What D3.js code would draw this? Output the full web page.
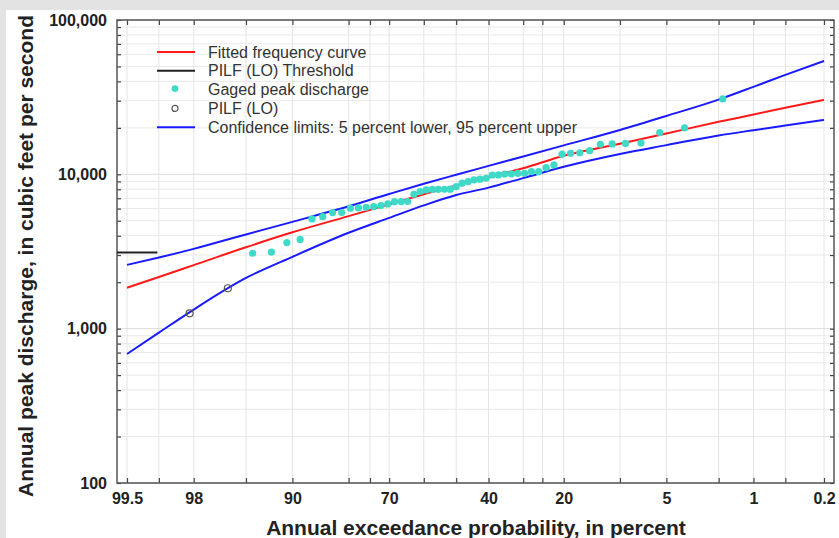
<!DOCTYPE html>
<html>
<head>
<meta charset="utf-8">
<script src="https://cdn.jsdelivr.net/npm/d3@7"></script>
<style>
  body { margin: 0; background: #fff; }
  svg { display: block; font-family: "Liberation Sans", Arial, sans-serif; }
  .axis path { display: none; }
  .axis line { stroke: #444; stroke-width: 1.2px; }
  .axis text { font-size: 16px; font-weight: bold; fill: #222; }
  .grid line { stroke: #e4e4e4; stroke-width: 1px; }
</style>
</head>
<body>
<svg width="839" height="538"></svg>
<script>
// exceedance probabilities (percent) where the curves were read
var curveProbs = [99.5, 99, 98, 95, 90, 80, 70, 60, 50, 40, 30, 20, 10, 5, 2, 1, 0.5, 0.2];
var fitted = [1840, 2160, 2580, 3370, 4210, 5360, 6390, 7430, 8460, 9600, 10950, 13200, 15800, 18400, 21900, 24400, 27000, 30400];
var upper95 = [2590, 2890, 3290, 4080, 4920, 6210, 7460, 8690, 9940, 11340, 13050, 15400, 19400, 23900, 30500, 36900, 44100, 54300];
var lower5 = [685, 943, 1330, 2130, 2920, 4180, 5220, 6290, 7340, 8200, 9450, 11200, 13560, 15460, 17870, 19310, 20690, 22530];

// gaged peaks (cfs) and their plotting positions (percent)
var gagedProb = [1.85, 3.70, 5.56, 7.41, 9.26, 11.11, 12.96, 14.81, 16.67, 18.52, 20.37, 22.22, 24.07, 25.93,
  27.78, 29.63, 31.48, 33.33, 35.19, 37.04, 38.89, 40.74, 42.59, 44.44, 46.30, 48.15, 50.00, 51.85, 53.70,
  55.56, 57.41, 59.26, 61.11, 62.96, 64.81, 66.67, 68.52, 70.37, 72.22, 74.07, 75.93, 77.78, 79.63, 81.48,
  83.33, 85.19, 87.04, 88.89, 90.74, 92.59, 94.44];
var gagedPeak = [30800, 19980, 18640, 15950, 15850, 15740, 15670, 14240, 13800, 13700, 13500, 11510, 11050, 10410,
  10400, 10160, 10150, 10060, 10050, 9910, 9900, 9430, 9300, 9200, 8970, 8760, 8320, 8010, 8000,
  7990, 7980, 7925, 7730, 7430, 6670, 6660, 6650, 6430, 6270, 6175, 6120, 6056, 6040, 5660,
  5650, 5320, 5140, 3785, 3610, 3130, 3080];

var pilfProb = [96.30, 98.15];
var pilfPeak = [1827, 1258];
var pilfThreshold = 3110;
var thresholdProbs = [99.72, 99.03];

var xTicks = [99.5, 99, 98, 95, 90, 80, 75, 70, 60, 50, 40, 30, 25, 20, 10, 5, 2, 1, 0.5, 0.2];
var xLabels = [99.5, 98, 90, 70, 40, 20, 5, 1, 0.2];
var yLabels = [100, 1000, 10000, 100000];

var legendItems = [
  {name: "Fitted frequency curve", type: "line", color: "#ff1a1a"},
  {name: "PILF (LO) Threshold", type: "line", color: "#222"},
  {name: "Gaged peak discharge", type: "dot", color: "#3fd9c8"},
  {name: "PILF (LO)", type: "circle", color: "#555"},
  {name: "Confidence limits: 5 percent lower, 95 percent upper", type: "line", color: "#1a1aff"}
];

// inverse standard normal (Acklam)
function qnorm(p) {
  var a = [-3.969683028665376e+01, 2.209460984245205e+02, -2.759285104469687e+02, 1.383577518672690e+02, -3.066479806614716e+01, 2.506628277459239e+00],
      b = [-5.447609879822406e+01, 1.615858368580409e+02, -1.556989798598866e+02, 6.680131188771972e+01, -1.328068155288572e+01],
      c = [-7.784894002430293e-03, -3.223964580411365e-01, -2.400758277161838e+00, -2.549732539343734e+00, 4.374664141464968e+00, 2.938163982698783e+00],
      d = [7.784695709041462e-03, 3.224671290700398e-01, 2.445134137142996e+00, 3.754408661907416e+00];
  var q, r;
  if (p < 0.02425) {
    q = Math.sqrt(-2 * Math.log(p));
    return (((((c[0]*q+c[1])*q+c[2])*q+c[3])*q+c[4])*q+c[5]) / ((((d[0]*q+d[1])*q+d[2])*q+d[3])*q+1);
  } else if (p <= 1 - 0.02425) {
    q = p - 0.5; r = q * q;
    return (((((a[0]*r+a[1])*r+a[2])*r+a[3])*r+a[4])*r+a[5])*q / (((((b[0]*r+b[1])*r+b[2])*r+b[3])*r+b[4])*r+1);
  }
  q = Math.sqrt(-2 * Math.log(1 - p));
  return -(((((c[0]*q+c[1])*q+c[2])*q+c[3])*q+c[4])*q+c[5]) / ((((d[0]*q+d[1])*q+d[2])*q+d[3])*q+1);
}
function zOf(pct) { return qnorm(1 - pct / 100); }

var svg = d3.select("svg"),
    margin = {top: 20, right: 5, bottom: 55, left: 117},
    width = +svg.attr("width") - margin.left - margin.right,
    height = +svg.attr("height") - margin.top - margin.bottom;

var x = d3.scaleLinear().domain([zOf(99.5), zOf(0.2)]).range([10, width - 10]);
var y = d3.scaleLog().domain([100, 100000]).range([height, 0]);
function xp(p) { return x(zOf(p)); }

var yMinor = [];
[100, 1000, 10000].forEach(function(dec) {
  for (var k = 1; k <= 10; k++) yMinor.push(dec * k);
});
yMinor = Array.from(new Set(yMinor));

svg.append("rect").attr("width", 839).attr("height", 538).attr("fill", "#fff");

var g = svg.append("g")
    .attr("transform", "translate(" + margin.left + "," + margin.top + ")");

// grid
g.append("g").attr("class", "grid")
  .selectAll("line").data(xTicks).enter().append("line")
    .attr("x1", function(d) { return xp(d); }).attr("x2", function(d) { return xp(d); })
    .attr("y1", 0).attr("y2", height);
g.append("g").attr("class", "grid")
  .selectAll("line").data(yMinor).enter().append("line")
    .attr("x1", 0).attr("x2", width)
    .attr("y1", function(d) { return y(d); }).attr("y2", function(d) { return y(d); })
    .style("stroke", function(d) { return yLabels.indexOf(d) >= 0 ? "#dcdcdc" : "#e8e8e8"; });

// axes
var fmt = d3.format(",");
g.append("g").attr("class", "axis")
  .attr("transform", "translate(0," + height + ")")
  .call(d3.axisBottom(x).tickValues(xTicks.map(zOf)).tickSize(-5).tickPadding(10)
    .tickFormat(function(d, i) { return xLabels.indexOf(xTicks[i]) >= 0 ? xTicks[i] : ""; }));
g.append("g").attr("class", "axis")
  .call(d3.axisTop(x).tickValues(xTicks.map(zOf)).tickSize(-5).tickFormat(""));
g.append("g").attr("class", "axis")
  .call(d3.axisLeft(y).tickValues(yMinor).tickSize(-4).tickPadding(10)
    .tickFormat(function(d) { return yLabels.indexOf(d) >= 0 ? fmt(d) : ""; }));
g.append("g").attr("class", "axis")
  .attr("transform", "translate(" + width + ",0)")
  .call(d3.axisRight(y).tickValues(yMinor).tickSize(-4).tickFormat(""));

// plot frame
g.append("rect").attr("width", width).attr("height", height)
  .attr("fill", "none").attr("stroke", "#555").attr("stroke-width", 1.5);

var line = d3.line()
  .x(function(d) { return xp(d[0]); })
  .y(function(d) { return y(d[1]); })
  .curve(d3.curveMonotoneX);

function series(vals) { return curveProbs.map(function(p, i) { return [p, vals[i]]; }); }

// threshold
g.append("path")
  .datum([[thresholdProbs[0], pilfThreshold], [thresholdProbs[1], pilfThreshold]])
  .attr("d", d3.line().x(function(d) { return Math.max(0, xp(d[0])); }).y(function(d) { return y(d[1]); }))
  .style("stroke", "#222").style("stroke-width", "2px").style("fill", "none");

[[lower5, "#1a1aff"], [upper95, "#1a1aff"], [fitted, "#ff1a1a"]].forEach(function(s) {
  g.append("path").datum(series(s[0]))
    .attr("d", line)
    .style("stroke", s[1]).style("stroke-width", "2px").style("fill", "none");
});

g.selectAll(".gaged")
  .data(gagedPeak)
  .enter().append("circle")
    .attr("class", "gaged")
    .attr("cx", function(d, i) { return xp(gagedProb[i]); })
    .attr("cy", function(d) { return y(d); })
    .attr("r", 3.6)
    .attr("fill", "#3fd9c8");

g.selectAll(".pilf")
  .data(pilfPeak)
  .enter().append("circle")
    .attr("class", "pilf")
    .attr("cx", function(d, i) { return xp(pilfProb[i]); })
    .attr("cy", function(d) { return y(d); })
    .attr("r", 3.5)
    .attr("fill", "none").attr("stroke", "#555").attr("stroke-width", 1.2);

// legend
var leg = svg.append("g").attr("transform", "translate(157,52)");
var rows = leg.selectAll("g").data(legendItems).enter().append("g")
  .attr("transform", function(d, i) { return "translate(0," + (i * 18.8) + ")"; });
rows.filter(function(d) { return d.type === "line"; }).append("line")
  .attr("x1", 0).attr("x2", 38).attr("y1", 0).attr("y2", 0)
  .style("stroke", function(d) { return d.color; }).style("stroke-width", "2px");
rows.filter(function(d) { return d.type === "dot"; }).append("circle")
  .attr("cx", 18).attr("cy", -1).attr("r", 3.4).attr("fill", function(d) { return d.color; });
rows.filter(function(d) { return d.type === "circle"; }).append("circle")
  .attr("cx", 18).attr("cy", 0).attr("r", 3).attr("fill", "none")
  .attr("stroke", function(d) { return d.color; }).attr("stroke-width", 1.2);
rows.append("text")
  .attr("x", 51).attr("y", 0).attr("dy", "0.35em")
  .style("font-size", "16px").style("fill", "#333")
  .text(function(d) { return d.name; });

// axis titles
svg.append("text")
  .attr("transform", "translate(33,497) rotate(-90)")
  .style("font-size", "21px").style("font-weight", "bold").style("fill", "#222")
  .text("Annual peak discharge, in cubic feet per second");
svg.append("text")
  .attr("x", 476).attr("y", 535)
  .attr("text-anchor", "middle")
  .style("font-size", "21px").style("font-weight", "bold").style("fill", "#222")
  .text("Annual exceedance probability, in percent");

// grey frame around the screenshot
svg.append("rect").attr("x", 0).attr("y", 0).attr("width", 839).attr("height", 10).attr("fill", "#e3e3e3");
svg.append("rect").attr("x", 0).attr("y", 0).attr("width", 6).attr("height", 538).attr("fill", "#e3e3e3");
</script>
</body>
</html>
